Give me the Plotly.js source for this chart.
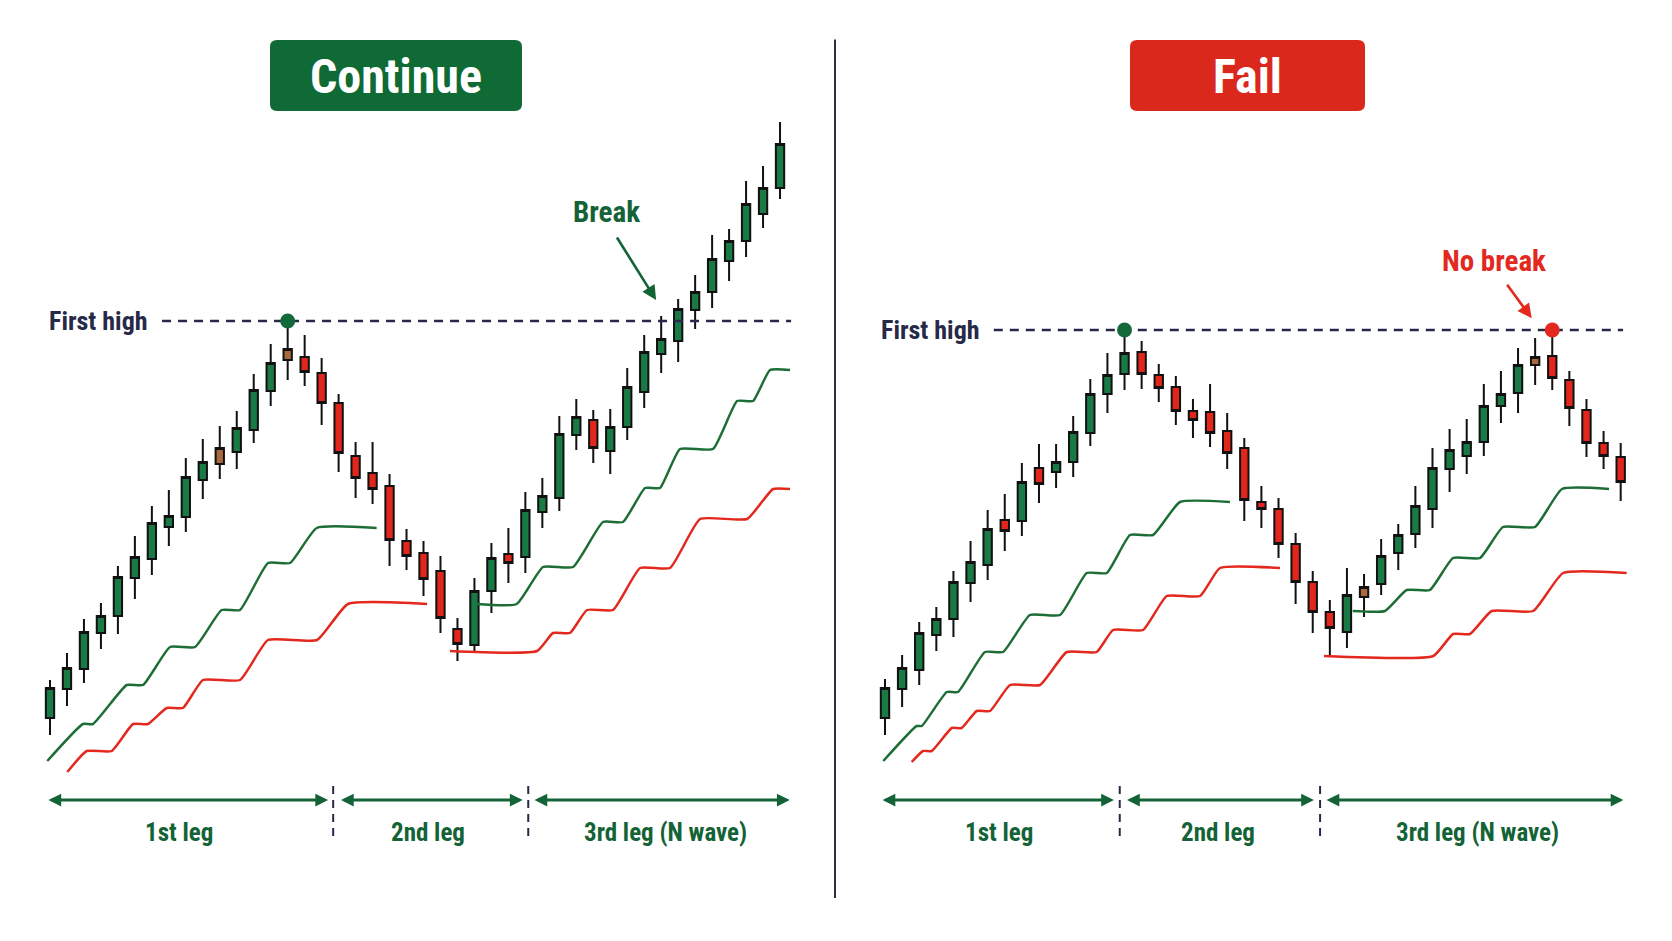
<!DOCTYPE html>
<html>
<head>
<meta charset="utf-8">
<script src="https://cdn.plot.ly/plotly-3.0.1.min.js"></script>
<style>
html,body{margin:0;padding:0;background:#fff;}
#chart{width:1672px;height:941px;}
</style>
</head>
<body>
<div id="chart"></div>
<script>
// ---------------- DATA (candle index on x, price on y) ----------------
// Left panel: "Continue"
const leftOpen  = [18.2,21.1,23.1,26.7,28.4,32.2,34.1,37.3,38.3,42.0,43.6,44.8,47.0,50.9,54.0,54.3,52.7,49.7,44.4,42.7,41.4,35.9,34.7,32.9,27.1,25.5,30.9,34.6,34.3,38.8,40.2,46.5,48.0,44.9,47.3,50.8,54.6,55.9,59.0,60.8,63.9,65.9,68.6,71.2];
const leftHigh  = [22.0,24.7,28.1,29.7,33.4,36.4,39.4,41.0,44.2,46.1,47.4,48.9,52.6,55.6,57.9,56.5,54.2,50.6,45.8,45.8,42.6,37.1,35.9,34.4,28.2,32.2,35.7,37.2,40.8,42.2,48.4,50.1,49.0,49.1,53.2,56.5,58.4,60.1,62.5,66.5,67.1,71.9,73.4,77.8];
const leftLow   = [16.5,19.4,21.7,25.1,26.6,30.1,32.5,35.4,36.8,40.1,42.1,43.1,45.7,49.4,52.0,51.4,47.5,42.8,40.2,39.6,33.4,33.0,30.4,26.7,23.9,24.7,28.7,31.7,32.7,37.2,38.9,45.0,43.7,42.6,46.0,49.2,52.7,53.8,57.1,59.2,61.9,64.3,67.2,70.1];
const leftClose = [21.2,23.2,26.8,28.4,32.3,34.3,37.7,38.4,42.3,43.8,45.2,47.2,51.0,53.7,55.1,52.8,49.7,44.7,42.2,41.1,36.0,34.4,32.1,28.2,25.6,30.9,34.2,33.7,39.0,40.4,46.6,48.3,45.2,47.3,51.3,54.8,56.1,59.1,60.8,64.1,65.9,69.6,71.2,75.6];
const leftDoji  = [10, 14];          // small brown-bodied candles
const leftFirstHighIdx = 14;
const leftHighLineX = [6.6, 43.65];

const leftGreen1X = [-0.16,1.94,2.53,4.52,5.48,7.07,8.54,10.11,11.19,12.84,14.14,15.71,19.24];
const leftGreen1Y = [13.9,17.6,17.6,21.5,21.5,25.3,25.3,29.0,29.0,33.7,33.7,37.2,37.2];
const leftGreen2X = [25.13,27.49,29.04,30.81,32.57,33.75,35.05,35.93,37.11,39.05,40.47,41.41,42.41,43.59];
const leftGreen2Y = [29.6,29.6,33.3,33.3,37.8,37.8,41.2,41.2,45.1,45.1,49.9,49.9,53.0,53.0];
const leftRed1X   = [1.02,2.16,3.63,4.89,5.77,6.87,7.83,9.01,11.19,12.84,15.73,17.55,22.21];
const leftRed1Y   = [12.8,14.9,14.9,17.6,17.6,19.2,19.2,22.0,22.0,26.0,26.0,29.6,29.6];
const leftRed2X   = [23.56,28.69,29.63,30.63,31.63,33.16,34.76,36.52,38.29,41.06,42.59,43.59];
const leftRed2Y   = [24.9,24.9,26.7,26.7,29.0,29.0,33.2,33.2,38.1,38.1,41.1,41.1];

const leftLegStart = [-0.18, 17.05, 28.45];
const leftLegEnd   = [16.38, 27.84, 43.57];
const leftLegSep   = [16.68, 28.17];
const leftLegLabelX = [7.62, 22.28, 36.23];

// Right panel: "Fail"
const rightOpen  = [18.2,21.1,23.0,26.5,28.1,31.7,33.5,38.0,37.9,43.2,42.8,43.8,46.7,50.6,52.6,54.8,52.5,51.3,48.9,48.8,46.9,45.2,39.8,39.1,35.6,31.8,28.8,26.8,30.3,31.6,34.7,36.6,39.1,43.1,44.4,45.8,49.4,50.7,53.5,54.4,52.0,49.0,45.7,44.3];
const rightHigh  = [22.1,24.5,27.8,29.3,32.9,35.9,39.0,40.6,43.7,45.6,45.6,48.4,52.1,54.7,57.0,55.9,53.6,52.4,50.1,51.6,48.7,46.2,41.4,40.2,36.7,32.9,30.0,33.2,32.6,36.1,37.6,41.4,45.2,47.1,48.1,51.6,52.9,55.2,56.2,57.0,52.9,50.1,46.9,45.7];
const rightLow   = [16.5,19.3,21.5,24.9,26.3,29.8,32.0,34.9,36.4,39.7,41.2,42.3,45.4,48.7,51.0,51.1,49.8,47.5,46.2,45.3,43.1,37.9,37.2,34.2,29.6,26.7,24.4,25.2,28.3,30.5,33.0,35.2,37.2,40.8,42.6,44.4,47.7,48.7,51.5,51.0,47.4,44.3,43.1,39.9];
const rightClose = [21.2,23.2,26.7,28.1,31.8,33.8,37.1,36.9,41.8,41.6,43.8,46.8,50.6,52.5,54.7,52.6,51.2,48.9,48.0,46.7,44.7,40.0,39.1,35.6,31.8,28.8,27.2,30.5,31.3,34.4,36.5,39.4,43.2,45.0,45.8,49.4,50.6,53.5,54.3,52.2,49.2,45.7,44.4,41.8];
const rightDoji  = [28, 38];
const rightFirstHighIdx = 14;
const rightRetestIdx = 39;
const rightHighLineX = [6.36, 43.14];

const rightGreen1X = [-0.10,1.85,2.15,3.61,4.27,5.84,6.90,8.47,10.23,11.79,12.96,14.32,15.67,17.24,20.16];
const rightGreen1Y = [13.9,17.4,17.4,20.8,20.8,24.8,24.8,28.5,28.5,32.7,32.7,36.5,36.5,39.8,39.8];
const rightGreen2X = [27.34,29.22,30.49,31.85,33.20,34.78,36.12,37.99,39.57,42.32];
const rightGreen2Y = [28.9,28.9,31.0,31.0,34.2,34.2,37.3,37.3,41.1,41.1];
const rightRed1X   = [1.56,2.22,2.73,3.90,4.48,5.36,6.14,7.31,9.06,10.62,12.37,13.33,15.08,16.47,18.41,19.58,23.09];
const rightRed1Y   = [13.8,14.9,14.9,17.2,17.2,18.9,18.9,21.5,21.5,24.8,24.8,27.0,27.0,30.4,30.4,33.2,33.2];
const rightRed2X   = [25.66,32.05,33.20,34.19,35.46,37.89,39.63,43.35];
const rightRed2Y   = [24.4,24.4,26.6,26.6,28.9,28.9,32.7,32.7];

const rightLegStart = [-0.23, 14.06, 25.72];
const rightLegEnd   = [13.38, 25.07, 43.16];
const rightLegSep   = [13.72, 25.43];
const rightLegLabelX = [6.69, 19.49, 34.63];

const legLabels = ['1st leg', '2nd leg', '3rd leg (N wave)'];
const panelTitles = ['Continue', 'Fail'];

// ---------------- STYLE ----------------
const FONT = '"Liberation Sans Narrow", "Arial Narrow", "Roboto Condensed", "DejaVu Sans Condensed", "Liberation Sans", sans-serif';
const C_UP = '#1a7a45', C_DN = '#e2261c', C_DOJI = '#a8693c';
const C_GREEN = '#1d6e36', C_RED = '#e3281d', C_NAVY = '#262a48', C_DKGREEN = '#146336';
const LEG_Y = 10.0, LEG_LABEL_Y = 6.8, SEP_Y = [11.4, 6.0];

const traces = [];
const annotations = [];
const shapes = [];

function candles(o, h, l, c, doji, xa, ya) {
  const idx = o.map((_, i) => i);
  const pick = (arr, sel) => sel.map(i => arr[i]);
  const main = idx.filter(i => !doji.includes(i));
  const dj = idx.filter(i => doji.includes(i));
  const base = {type: 'candlestick', xaxis: xa, yaxis: ya, hoverinfo: 'skip', whiskerwidth: 0};
  traces.push(Object.assign({}, base, {
    x: main, open: pick(o, main), high: pick(h, main), low: pick(l, main), close: pick(c, main),
    increasing: {line: {color: '#111111', width: 2}, fillcolor: C_UP},
    decreasing: {line: {color: '#111111', width: 2}, fillcolor: C_DN}
  }));
  traces.push(Object.assign({}, base, {
    x: dj, open: pick(o, dj), high: pick(h, dj), low: pick(l, dj), close: pick(c, dj),
    increasing: {line: {color: '#111111', width: 2}, fillcolor: C_DOJI},
    decreasing: {line: {color: '#111111', width: 2}, fillcolor: C_DOJI}
  }));
}

function stepLine(x, y, color, xa) {
  traces.push({type: 'scatter', mode: 'lines', x: x, y: y, xaxis: xa, yaxis: 'y',
    line: {color: color, width: 2.5, shape: 'spline', smoothing: 0.45}, hoverinfo: 'skip'});
}

function firstHigh(lineX, level, xa) {
  traces.push({type: 'scatter', mode: 'lines', x: lineX, y: [level, level], xaxis: xa, yaxis: 'y',
    line: {color: C_NAVY, width: 2.4, dash: '9px,7px'}, hoverinfo: 'skip'});
  annotations.push({xref: xa, yref: 'y', x: lineX[0], y: level, xanchor: 'right', yanchor: 'middle',
    xshift: -12, showarrow: false, text: 'First high',
    font: {family: FONT, size: 26, color: C_NAVY, weight: 700}});
}

function legs(starts, ends, seps, labelX, xa) {
  for (let i = 0; i < starts.length; i++) {
    annotations.push({xref: xa, yref: 'y', axref: xa, ayref: 'y', x: ends[i], y: LEG_Y, ax: starts[i], ay: LEG_Y,
      text: '', showarrow: true, arrowside: 'end+start', arrowhead: 2, arrowsize: 0.85, arrowwidth: 3,
      arrowcolor: C_DKGREEN, standoff: 0, startstandoff: 0});
    annotations.push({xref: xa, yref: 'y', x: labelX[i], y: LEG_LABEL_Y, showarrow: false, text: legLabels[i],
      xanchor: 'center', yanchor: 'middle', font: {family: FONT, size: 25, color: C_DKGREEN, weight: 700}});
  }
  seps.forEach(s => traces.push({type: 'scatter', mode: 'lines', x: [s, s], y: SEP_Y, xaxis: xa, yaxis: 'y',
    line: {color: C_NAVY, width: 2, dash: '8px,6px'}, hoverinfo: 'skip'}));
}

// Left panel
candles(leftOpen, leftHigh, leftLow, leftClose, leftDoji, 'x', 'y');
stepLine(leftGreen1X, leftGreen1Y, C_GREEN, 'x');
stepLine(leftGreen2X, leftGreen2Y, C_GREEN, 'x');
stepLine(leftRed1X, leftRed1Y, C_RED, 'x');
stepLine(leftRed2X, leftRed2Y, C_RED, 'x');
firstHigh(leftHighLineX, leftHigh[leftFirstHighIdx], 'x');
traces.push({type: 'scatter', mode: 'markers', x: [leftFirstHighIdx], y: [leftHigh[leftFirstHighIdx]],
  xaxis: 'x', yaxis: 'y', marker: {size: 15, color: '#13693a'}, hoverinfo: 'skip'});
legs(leftLegStart, leftLegEnd, leftLegSep, leftLegLabelX, 'x');

// Right panel
candles(rightOpen, rightHigh, rightLow, rightClose, rightDoji, 'x2', 'y');
stepLine(rightGreen1X, rightGreen1Y, C_GREEN, 'x2');
stepLine(rightGreen2X, rightGreen2Y, C_GREEN, 'x2');
stepLine(rightRed1X, rightRed1Y, C_RED, 'x2');
stepLine(rightRed2X, rightRed2Y, C_RED, 'x2');
firstHigh(rightHighLineX, rightHigh[rightFirstHighIdx], 'x2');
traces.push({type: 'scatter', mode: 'markers', x: [rightFirstHighIdx, rightRetestIdx],
  y: [rightHigh[rightFirstHighIdx], rightHigh[rightRetestIdx]],
  xaxis: 'x2', yaxis: 'y', marker: {size: 15, color: ['#13693a', C_RED]}, hoverinfo: 'skip'});
legs(rightLegStart, rightLegEnd, rightLegSep, rightLegLabelX, 'x2');

// Break / No break callouts
annotations.push({xref: 'x', yref: 'y', x: 32.75, y: 68.8, text: 'Break', showarrow: false,
  font: {family: FONT, size: 29, color: C_DKGREEN, weight: 700}});
annotations.push({xref: 'x', yref: 'y', axref: 'x', ayref: 'y', x: 35.70, y: 60.0, ax: 33.34, ay: 66.4,
  text: '', showarrow: true, arrowhead: 2, arrowsize: 1.1, arrowwidth: 2.6, arrowcolor: C_DKGREEN, standoff: 0});
annotations.push({xref: 'x2', yref: 'y', x: 35.60, y: 63.9, text: 'No break', showarrow: false,
  font: {family: FONT, size: 29, color: C_RED, weight: 700}});
annotations.push({xref: 'x2', yref: 'y', axref: 'x2', ayref: 'y', x: 37.80, y: 58.17, ax: 36.30, ay: 61.67,
  text: '', showarrow: true, arrowhead: 2, arrowsize: 1.1, arrowwidth: 2.6, arrowcolor: C_RED, standoff: 0});

// Title boxes (pixel geometry -> paper)
const W = 1672, H = 941;
function roundRect(x0, y0, x1, y1, r) {
  const px = v => (v / W).toFixed(5), py = v => (1 - v / H).toFixed(5);
  return `M${px(x0 + r)},${py(y0)} L${px(x1 - r)},${py(y0)} Q${px(x1)},${py(y0)} ${px(x1)},${py(y0 + r)} ` +
         `L${px(x1)},${py(y1 - r)} Q${px(x1)},${py(y1)} ${px(x1 - r)},${py(y1)} L${px(x0 + r)},${py(y1)} ` +
         `Q${px(x0)},${py(y1)} ${px(x0)},${py(y1 - r)} L${px(x0)},${py(y0 + r)} Q${px(x0)},${py(y0)} ${px(x0 + r)},${py(y0)} Z`;
}
const boxes = [[270, 40, 522, 111, '#0f6a35'], [1130, 40, 1365, 111, '#da281c']];
boxes.forEach((b, i) => {
  shapes.push({type: 'path', xref: 'paper', yref: 'paper', path: roundRect(b[0], b[1], b[2], b[3], 7),
    fillcolor: b[4], line: {width: 0}, layer: 'below'});
  annotations.push({xref: 'paper', yref: 'paper', x: (b[0] + b[2]) / 2 / W, y: 1 - ((b[1] + b[3]) / 2 + 1) / H,
    xanchor: 'center', yanchor: 'middle', showarrow: false, text: panelTitles[i],
    font: {family: FONT, size: 48, color: '#ffffff', weight: 700}});
});
// divider
shapes.push({type: 'line', xref: 'paper', yref: 'paper', x0: 835 / W, x1: 835 / W, y0: 1 - 39.5 / H, y1: 1 - 898 / H,
  line: {color: '#2a2d45', width: 2}});

const hiddenAx = {showgrid: false, zeroline: false, showticklabels: false, showline: false, ticks: '', fixedrange: true};
const layout = {
  width: W, height: H, margin: {l: 0, r: 0, t: 0, b: 0},
  paper_bgcolor: '#ffffff', plot_bgcolor: '#ffffff', showlegend: false,
  xaxis: Object.assign({}, hiddenAx, {domain: [0, 0.5], range: [-2.945, 46.297], rangeslider: {visible: false}}),
  xaxis2: Object.assign({}, hiddenAx, {domain: [0.5, 1], range: [-2.864, 45.999], anchor: 'y', rangeslider: {visible: false}}),
  yaxis: Object.assign({}, hiddenAx, {domain: [0, 1], range: [-4.1, 90]}),
  annotations: annotations, shapes: shapes
};
Plotly.newPlot('chart', traces, layout, {staticPlot: true, displayModeBar: false});
</script>
</body>
</html>
